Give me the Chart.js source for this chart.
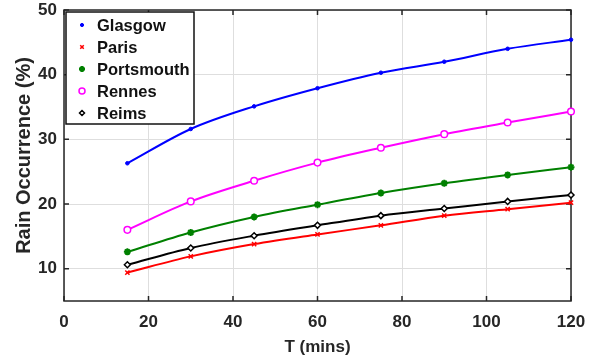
<!DOCTYPE html>
<html>
<head>
<meta charset="utf-8">
<script src="https://cdn.jsdelivr.net/npm/chart.js@4"></script>
<style>
  body { margin: 0; background: #fff; }
  canvas { display: block; }
</style>
</head>
<body>
<canvas id="rainChart" width="597" height="362"></canvas>
<script>
// Values
const times = [15, 30, 45, 60, 75, 90, 105, 120];
const glasgow = [26.3, 31.6, 35.1, 37.9, 40.3, 42.0, 44.0, 45.4];
const paris = [9.4, 11.9, 13.8, 15.3, 16.7, 18.2, 19.2, 20.2];
const portsmouth = [12.6, 15.6, 18.0, 19.9, 21.7, 23.2, 24.5, 25.7];
const rennes = [16.0, 20.4, 23.6, 26.4, 28.7, 30.8, 32.6, 34.3];
const reims = [10.6, 13.2, 15.1, 16.7, 18.2, 19.3, 20.4, 21.4];
const xTicks = [0, 20, 40, 60, 80, 100, 120];
const yTicks = [10, 20, 30, 40, 50];

const FONT = "'Liberation Sans', Arial, sans-serif";
const AXIS = '#262626';

function series(label, ys, color, style, radius, fill, bw, legendRadius) {
  return {
    label: label,
    data: times.map((t, i) => ({ x: t, y: ys[i] })),
    borderColor: color,
    borderWidth: 2,
    pointStyle: style,
    pointRadius: radius,
    pointBorderColor: color,
    pointBackgroundColor: fill,
    pointBorderWidth: bw,
    legendRadius: legendRadius,
    cubicInterpolationMode: 'monotone',
    clip: false
  };
}

const datasets = [
  series('Glasgow', glasgow, '#0000ff', 'circle', 1.8, '#0000ff', 1, 1.6),
  series('Paris', paris, '#ff0000', 'crossRot', 3, '#ff0000', 1.5, 2.5),
  series('Portsmouth', portsmouth, '#008000', 'star', 3.5, '#008000', 2, 3),
  series('Rennes', rennes, '#ff00ff', 'circle', 3.3, '#ffffff', 1.5, 3),
  series('Reims', reims, '#000000', 'rectRot', 3, '#ffffff', 1.5, 2.5)
];

// box around the plot with inward ticks (MATLAB style)
const boxPlugin = {
  id: 'box',
  beforeDatasetsDraw(chart) {
    const { ctx, chartArea: a, scales } = chart;
    ctx.save();
    ctx.strokeStyle = AXIS;
    ctx.lineWidth = 1.5;
    ctx.strokeRect(a.left, a.top, a.right - a.left, a.bottom - a.top);
    ctx.beginPath();
    xTicks.forEach(v => {
      const px = scales.x.getPixelForValue(v);
      ctx.moveTo(px, a.bottom); ctx.lineTo(px, a.bottom - 5);
      ctx.moveTo(px, a.top); ctx.lineTo(px, a.top + 5);
    });
    yTicks.forEach(v => {
      const py = scales.y.getPixelForValue(v);
      ctx.moveTo(a.left, py); ctx.lineTo(a.left + 5, py);
      ctx.moveTo(a.right, py); ctx.lineTo(a.right - 5, py);
    });
    ctx.stroke();
    ctx.restore();
  }
};

// legend box in the top left corner
const legendBox = {
  id: 'legendBox',
  afterDraw(chart) {
    const { ctx, chartArea: a } = chart;
    const x0 = a.left + 2, y0 = a.top + 2, w = 128, h = 112;
    ctx.save();
    ctx.fillStyle = '#fff';
    ctx.fillRect(x0, y0, w, h);
    ctx.strokeStyle = '#111';
    ctx.lineWidth = 1.5;
    ctx.strokeRect(x0, y0, w, h);
    chart.data.datasets.forEach((ds, i) => {
      const y = y0 + 13 + i * 22;
      ctx.fillStyle = ds.pointBackgroundColor;
      ctx.strokeStyle = ds.pointBorderColor;
      ctx.lineWidth = ds.pointBorderWidth;
      Chart.helpers.drawPoint(ctx, {
        pointStyle: ds.pointStyle,
        radius: ds.legendRadius,
        borderWidth: ds.pointBorderWidth,
        rotation: 0
      }, x0 + 16, y);
      ctx.fillStyle = '#111';
      ctx.font = 'bold 16.5px ' + FONT;
      ctx.textBaseline = 'middle';
      ctx.fillText(ds.label, x0 + 31, y + 1);
    });
    ctx.restore();
  }
};

const tickFont = { family: FONT, size: 17, weight: 'bold' };

const config = {
  type: 'line',
  data: { datasets: datasets },
  options: {
    responsive: false,
    animation: false,
    layout: { padding: { top: 10, right: 26, left: 0, bottom: 0 } },
    plugins: { legend: { display: false }, tooltip: { enabled: false } },
    scales: {
      x: {
        type: 'linear',
        min: 0,
        max: 120,
        afterBuildTicks: s => { s.ticks = xTicks.map(v => ({ value: v })); },
        afterFit: s => { s.height = 61; s.paddingLeft = 0; s.paddingRight = 0; },
        grid: { color: '#dedede', drawTicks: false },
        border: { display: false },
        ticks: { color: AXIS, font: tickFont, padding: 11, maxRotation: 0 },
        title: { display: true, text: 'T (mins)', color: AXIS, font: { family: FONT, size: 17, weight: 'bold' }, padding: { top: 2 } }
      },
      y: {
        min: 5,
        max: 50,
        afterBuildTicks: s => { s.ticks = yTicks.map(v => ({ value: v })); },
        afterFit: s => { s.width = 64; s.paddingTop = 0; s.paddingBottom = 0; },
        grid: { color: '#dedede', drawTicks: false },
        border: { display: false },
        ticks: { color: AXIS, font: tickFont, padding: 7 },
        title: { display: true, text: 'Rain Occurrence (%)', color: AXIS, font: { family: FONT, size: 20, weight: 'bold' }, padding: { top: 12, bottom: 0 } }
      }
    }
  },
  plugins: [boxPlugin, legendBox]
};

window.addEventListener('load', () => {
  const ctx = document.getElementById('rainChart').getContext('2d');
  new Chart(ctx, config);
});
</script>
</body>
</html>
